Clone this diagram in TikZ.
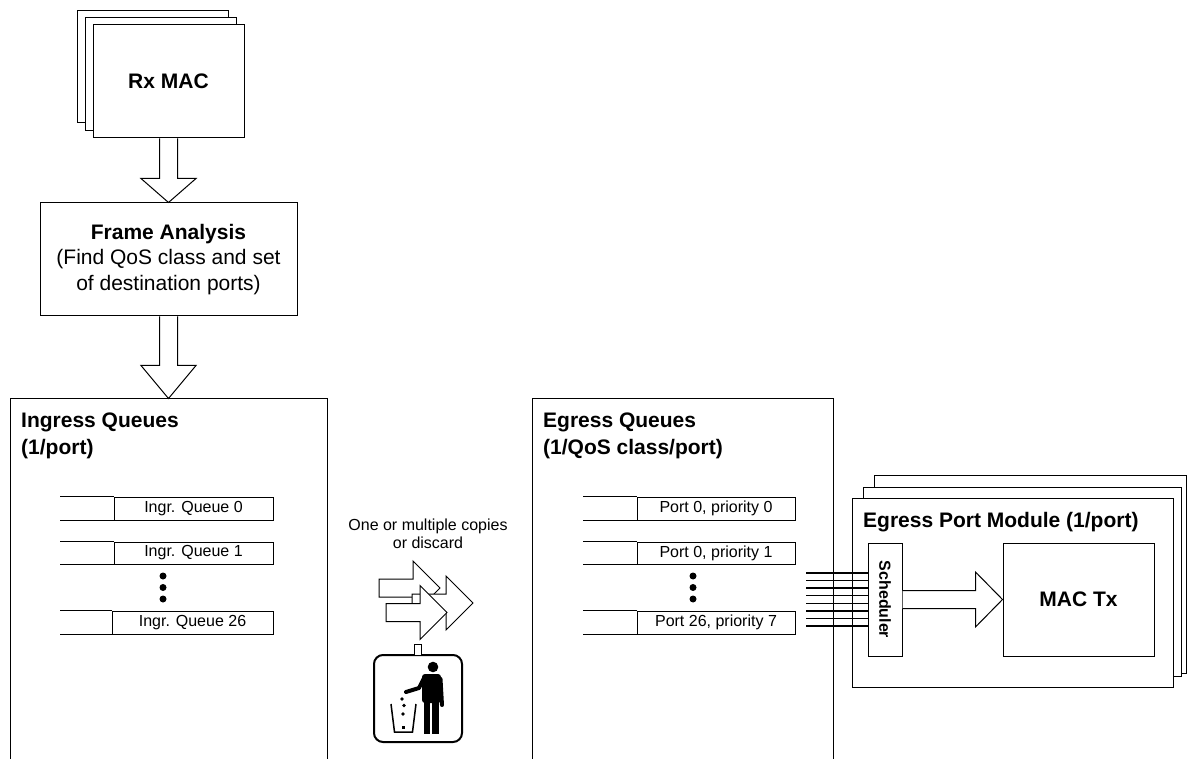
\documentclass[tikz,border=0pt]{standalone}
\usepackage{fontspec}
\setmainfont{Liberation Sans}
\usetikzlibrary{calc}
\begin{document}
\begin{tikzpicture}[x=1pt,y=-1pt,
  box/.style={draw, fill=white, line width=1pt, inner sep=0pt},
  fatarrow/.style={draw, fill=white, line width=1pt, line join=miter},
  bigtxt/.style={font=\fontsize{21}{27}\selectfont\bfseries},
  qcell/.style={draw, line width=1pt, inner sep=0pt, minimum height=23pt, font=\fontsize{16}{18}\selectfont},
  harrow/.pic={\draw[fatarrow] (0,0) -- (-27,-27) -- (-27,-9) -- (-61,-9) -- (-61,9) -- (-27,9) -- (-27,27) -- cycle;}
]
\useasboundingbox (0,0) rectangle (1187,759);
\fill[white] (0,0) rectangle (1187,759);
\begin{scope}
\clip (0,0) rectangle (1187,759);

% Rx MAC stack
\node[box, minimum width=151pt, minimum height=112pt] (rxb) at (152.5,67) {};
\node[box, minimum width=151pt, minimum height=113pt] (rxm) at (160.5,74.5) {};
\node[box, minimum width=151pt, minimum height=113pt, bigtxt] (rx) at (168.5,81.5) {Rx MAC};

% Frame analysis
\node[box, minimum width=257pt, minimum height=113pt, align=center, font=\fontsize{21}{25.5}\selectfont] (fa) at (168.5,259.5)
  {\textbf{Frame Analysis}\\(Find QoS class and set\\of destination ports)};

% Ingress / Egress boxes
\node[box, minimum width=317pt, minimum height=401pt] (ing) at (168.5,599.5) {};
\node[box, minimum width=301pt, minimum height=401pt] (eg) at (682.5,599.5) {};

% arrows down
\draw[fatarrow] ($(rx.south)+(-9,0)$) -- ($(fa.north)+(-9,-24)$) -- ($(fa.north)+(-27.5,-24)$) -- (fa.north)
  -- ($(fa.north)+(27.5,-24)$) -- ($(fa.north)+(9,-24)$) -- ($(rx.south)+(9,0)$);
\draw[fatarrow] ($(fa.south)+(-9,0)$) -- ($(ing.north)+(-9,-33)$) -- ($(ing.north)+(-27.5,-33)$) -- (ing.north)
  -- ($(ing.north)+(27.5,-33)$) -- ($(ing.north)+(9,-33)$) -- ($(fa.south)+(9,0)$);

% titles
\node[bigtxt, anchor=north west, align=left, inner sep=0pt] (ingt) at (21,412.6) {Ingress Queues\\(1/port)};
\node[bigtxt, anchor=north west, align=left, inner sep=0pt] (egt) at (543,412.6) {Egress Queues\\(1/QoS class/port)};

% ingress queues
\node[qcell, minimum width=159pt] (iq0) at (193.5,508.5) {Ingr. Queue 0};
\node[qcell, minimum width=159pt, minimum height=22pt] (iq1) at (193.5,553) {Ingr. Queue 1};
\node[qcell, minimum width=161pt] (iq26) at (192.5,622.5) {Ingr. Queue 26};
\foreach \q/\l in {iq0/54, iq1/54, iq26/52}{
  \draw[line width=1pt] (\q.north west) -- ++(-\l,0);
  \draw[line width=1pt] (\q.south west) -- ++(-\l,0);
}
\foreach \yy in {576,587.5,599}{ \fill (163,\yy) circle (3.5); }

% egress queues
\node[qcell, minimum width=158pt] (eq0) at (716,508.5) {Port 0, priority 0};
\node[qcell, minimum width=158pt, minimum height=22pt] (eq1) at (716,553) {Port 0, priority 1};
\node[qcell, minimum width=158pt] (eq26) at (716,622.5) {Port 26, priority 7};
\foreach \q in {eq0, eq1, eq26}{
  \draw[line width=1pt] (\q.north west) -- ++(-54,0);
  \draw[line width=1pt] (\q.south west) -- ++(-54,0);
}
\foreach \yy in {576,587.5,599}{ \fill (693,\yy) circle (3.5); }

% middle arrows and text
\node[align=center, font=\fontsize{16}{18}\selectfont, inner sep=0pt] (copies) at (428,534) {One or multiple copies\\or discard};
\pic at (440,588) {harrow};
\pic at (473,603) {harrow};
\pic at (447,612.5) {harrow};

% trash icon
\node[draw, fill=white, line width=2pt, rounded corners=9pt, minimum width=88pt, minimum height=87pt, inner sep=0pt] (trash) at (418,698.5) {};
\node[box, minimum width=7pt, minimum height=11pt] (tconn) at (417.5,649.5) {};
\fill (433,667) circle (5.3);
\fill[rounded corners=3pt] (422,674) rectangle (441,703);
\draw[line width=4pt, line cap=round] (440.5,679) -- (442,705);
\fill (423.5,700) rectangle (430,734);
\fill (432,700) rectangle (438.5,734);
\draw[line width=4pt, line cap=round, line join=round] (424,678) -- (419,688) -- (406,692);
\draw[line width=1.5pt] (391,704) -- (394.5,732) -- (412.5,732) -- (416,704);
\fill (402,699) circle (1.8);
\fill (404,705.5) circle (1.8);
\fill (403,714) circle (1.8);
\fill (401.5,726) rectangle (404.5,729);

% egress port module stack
\node[box, minimum width=312pt, minimum height=198pt] (epb) at (1030,574) {};
\node[box, minimum width=318pt, minimum height=189pt] (epm) at (1022,581.5) {};
\node[box, minimum width=321pt, minimum height=189pt] (epf) at (1012.5,592.5) {};
\node[bigtxt, anchor=north west, inner sep=0pt] (ept) at (863,511.8) {Egress Port Module (1/port)};

\node[box, minimum width=34pt, minimum height=113pt] (sched) at (885,599.5) {};
\node[rotate=-90, inner sep=0pt, font=\fontsize{16}{18}\selectfont\bfseries] (schedt) at (sched.center) {Scheduler};
\node[box, minimum width=151pt, minimum height=113pt, bigtxt] (mac) at (1078.5,599.5) {MAC Tx};

\draw[fatarrow] ($(sched.east)+(0,-9)$) -- ($(mac.west)+(-27,-9)$) -- ($(mac.west)+(-27,-27.5)$) -- (mac.west)
  -- ($(mac.west)+(-27,27.5)$) -- ($(mac.west)+(-27,9)$) -- ($(sched.east)+(0,9)$);

% lines from egress queues to scheduler
\foreach \i in {0,...,7}{
  \coordinate (w\i) at (806,573+\i*7.57);
  \draw[line width=1.3pt] (w\i) -- (w\i -| sched.west);
}
\end{scope}
\end{tikzpicture}
\end{document}
